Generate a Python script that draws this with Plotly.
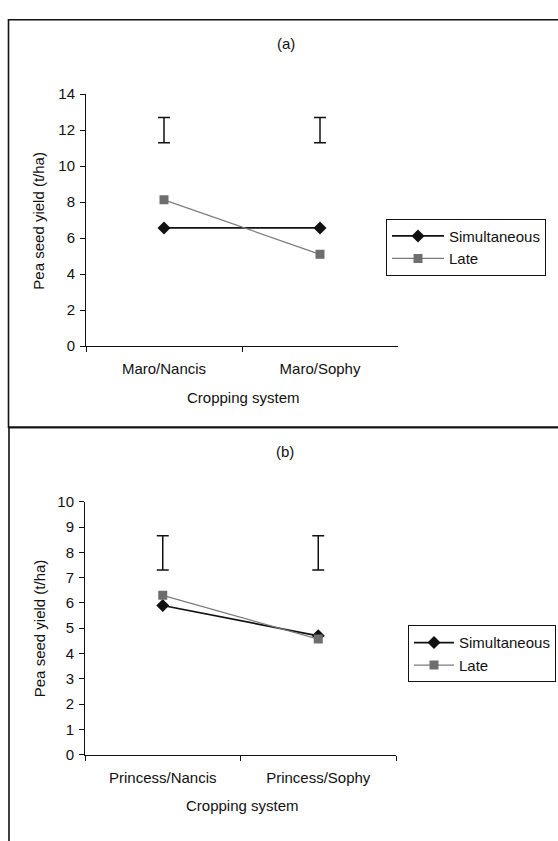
import plotly.graph_objects as go

# ---------------- data ----------------
cats_a = ["Maro/Nancis", "Maro/Sophy"]
sim_a = [6.57, 6.57]
late_a = [8.13, 5.1]
err_center_a = [12.0, 12.0]
err_half_a = [0.7, 0.7]

cats_b = ["Princess/Nancis", "Princess/Sophy"]
sim_b = [5.9, 4.7]
late_b = [6.3, 4.57]
err_center_b = [7.98, 7.98]
err_half_b = [0.68, 0.68]

W, H = 558, 841
FONT = "Liberation Sans, Arial, sans-serif"
FS = 15

def px(x):
    return x / W

def py(y):
    return 1 - y / H

fig = go.Figure()

def add_panel(cats, sim, late, ec, eh, xa, ya, leg):
    fig.add_trace(go.Scatter(
        x=cats, y=sim, name="Simultaneous", mode="lines+markers",
        line=dict(color="#111111", width=1.7),
        marker=dict(symbol="diamond", size=10, color="#111111"),
        xaxis=xa, yaxis=ya, legend=leg))
    fig.add_trace(go.Scatter(
        x=cats, y=late, name="Late", mode="lines+markers",
        line=dict(color="#7a7a7a", width=1.2),
        marker=dict(symbol="square", size=9, color="#6e6e6e"),
        xaxis=xa, yaxis=ya, legend=leg))
    fig.add_trace(go.Scatter(
        x=cats, y=ec, mode="markers", showlegend=False, hoverinfo="skip",
        marker=dict(size=1, color="rgba(0,0,0,0)"),
        error_y=dict(type="data", array=eh, color="#111111", thickness=1.5, width=6),
        xaxis=xa, yaxis=ya))

add_panel(cats_a, sim_a, late_a, err_center_a, err_half_a, "x", "y", "legend")
add_panel(cats_b, sim_b, late_b, err_center_b, err_half_b, "x2", "y2", "legend2")

xcommon = dict(type="category", tickson="boundaries", ticks="outside", ticklen=5,
               tickcolor="#111111", showline=True, linecolor="#111111", linewidth=1,
               showgrid=False, zeroline=False, range=[-0.5, 1.5],
               tickfont=dict(family=FONT, size=FS, color="#111111"),
               ticklabelstandoff=9)
ycommon = dict(ticks="outside", ticklen=5, tickcolor="#111111", showline=True,
               linecolor="#111111", linewidth=1, showgrid=False, zeroline=False,
               tickfont=dict(family=FONT, size=FS, color="#111111"),
               ticklabelstandoff=2)

def ann(text, x, y, angle=0):
    return dict(text=text, x=px(x), y=py(y), xref="paper", yref="paper",
                xanchor="center", yanchor="middle", showarrow=False,
                textangle=angle, font=dict(family=FONT, size=FS, color="#111111"))

fig.update_layout(
    width=W, height=H,
    margin=dict(l=0, r=0, t=0, b=0),
    paper_bgcolor="white", plot_bgcolor="white",
    font=dict(family=FONT, size=FS, color="#111111"),
    xaxis=dict(domain=[px(86), px(398)], anchor="y", **xcommon),
    yaxis=dict(domain=[py(344), py(87)], anchor="x", range=[0, 14], dtick=2, **ycommon),
    xaxis2=dict(domain=[px(85), px(396)], anchor="y2", **xcommon),
    yaxis2=dict(domain=[py(761), py(503)], anchor="x2", range=[0, 10], dtick=1, **ycommon),
    legend=dict(x=px(386), y=py(214), xanchor="left", yanchor="top",
                bordercolor="#111111", borderwidth=1, bgcolor="white",
                font=dict(family=FONT, size=FS, color="#111111"),
                itemwidth=52, tracegroupgap=0),
    legend2=dict(x=px(408), y=py(629), xanchor="left", yanchor="top",
                 bordercolor="#111111", borderwidth=1, bgcolor="white",
                 font=dict(family=FONT, size=FS, color="#111111"),
                 itemwidth=40, tracegroupgap=0),
    shapes=[
        dict(type="rect", xref="paper", yref="paper",
             x0=px(8.5), x1=1.02, y0=py(427), y1=py(11),
             line=dict(color="#111111", width=1.6)),
        dict(type="rect", xref="paper", yref="paper",
             x0=px(9), x1=1.02, y0=-0.02, y1=py(427),
             line=dict(color="#111111", width=1.6)),
    ],
    annotations=[
        ann("(a)", 286, 35),
        ann("(b)", 285, 452),
        ann("Pea seed yield (t/ha)", 39, 216, -90),
        ann("Pea seed yield (t/ha)", 39, 632, -90),
        ann("Cropping system", 243, 397),
        ann("Cropping system", 242, 813),
    ],
)

fig.write_html("out.html")
